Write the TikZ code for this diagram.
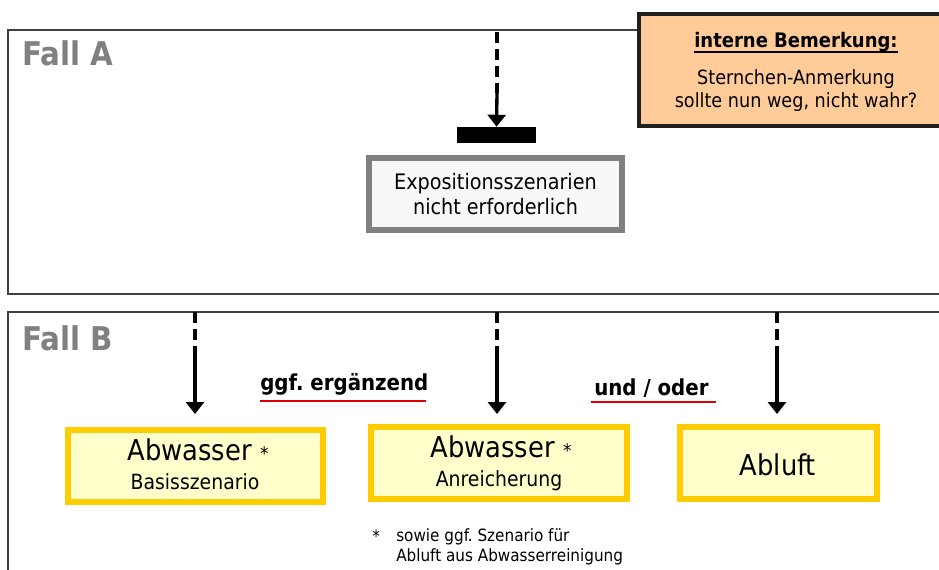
\documentclass[tikz,border=0pt]{standalone}
\usepackage{fontspec}
\setmainfont{DejaVu Sans Condensed}
\usetikzlibrary{arrows.meta,calc}
\frenchspacing
\definecolor{framegray}{HTML}{404040}
\definecolor{labelgray}{HTML}{808080}
\definecolor{boxgray}{HTML}{808080}
\definecolor{boxfill}{HTML}{F8F8F8}
\definecolor{gold}{HTML}{FFCC00}
\definecolor{paleyellow}{HTML}{FFFFCC}
\definecolor{peach}{HTML}{FFCC99}
\definecolor{notedraw}{HTML}{202020}
\definecolor{ulred}{HTML}{DD0000}
\tikzset{
  frame/.style={draw=framegray, line width=1.2pt},
  fallname/.style={anchor=base west, inner sep=0pt, text=labelgray, font=\bfseries\fontsize{24.5}{28}\selectfont},
  graybox/.style={draw=boxgray, fill=boxfill, line width=4.5pt, minimum width=189.75pt, minimum height=54pt, inner sep=0pt},
  yellowbox/.style={draw=gold, fill=paleyellow, line width=4.5pt, minimum height=54pt, inner sep=0pt},
  notebox/.style={draw=notedraw, fill=peach, line width=2.6pt, minimum width=235.5pt, minimum height=84pt, inner sep=0pt},
  bar/.style={fill=black, minimum width=59.25pt, minimum height=12pt, inner sep=0pt},
  txt/.style={anchor=base, inner sep=0pt},
  dashpart/.style={line width=2.5pt, dash pattern=on 8.25pt off 4.5pt},
  arrowpart/.style={line width=2.5pt, -{Triangle[width=13.5pt,length=9pt]}},
  redline/.style={draw=ulred, line width=1.5pt},
  bigtxt/.style={font=\fontsize{21.5}{25}\selectfont},
  midtxt/.style={font=\fontsize{16}{19}\selectfont},
  subtxt/.style={font=\fontsize{15.7}{18}\selectfont},
  notetxt/.style={font=\fontsize{14.7}{17}\selectfont},
  boldtxt/.style={font=\bfseries\fontsize{15}{18}\selectfont},
  labtxt/.style={font=\bfseries\fontsize{16.5}{19}\selectfont},
  foottxt/.style={font=\fontsize{12.7}{15}\selectfont}
}
\begin{document}
\begin{tikzpicture}[x=0.75pt,y=-0.75pt]
\useasboundingbox (0,0) rectangle (939,570);
\clip (0,0) rectangle (939,570);
\fill[white] (0,0) rectangle (939,570);
% frames
\draw[frame] (8,30) rectangle (970,294);
\draw[frame] (8,312) rectangle (970,620);
\node[fallname] (fa) at (22,66) {Fall A};
\node[fallname] (fb) at (22,350) {Fall B};
% note
\node[notebox] (note) at (796,70) {};
\node[txt, boldtxt] (nt1) at (796,48) {interne Bemerkung:};
\draw[black, line width=1.2pt] ($(nt1.base west)+(0,4)$) -- ($(nt1.base east)+(0,4)$);
\node[txt, notetxt] (nt2) at (796,85) {Sternchen-Anmerkung};
\node[txt, notetxt] (nt3) at (796,108) {sollte nun weg, nicht wahr?};
% Fall A
\node[bar] (bar) at (496.5,135) {};
\node[graybox] (expo) at (495.5,194) {};
\node[txt, midtxt] (ex1) at (495.5,190) {Expositionsszenarien};
\node[txt, midtxt] (ex2) at (495.5,215) {nicht erforderlich};
\coordinate (a0) at (497,32);
\coordinate (a1) at (497,93);
\draw[dashpart] (a0) -- (a1);
\draw[arrowpart] (a1) -- (bar.north);
% Fall B boxes
\node[yellowbox, minimum width=191.25pt] (b1) at (195.5,466) {};
\node[yellowbox, minimum width=192pt] (b2) at (499,463) {};
\node[yellowbox, minimum width=147.75pt] (b3) at (778.5,463) {};
\node[txt, bigtxt] (b1t) at (198,460) {Abwasser {\fontsize{14}{16}\selectfont *}};
\node[txt, subtxt] (b1s) at (195,489) {Basisszenario};
\node[txt, bigtxt] (b2t) at (501,457) {Abwasser {\fontsize{14}{16}\selectfont *}};
\node[txt, subtxt] (b2s) at (499,486) {Anreicherung};
\node[txt, bigtxt] (b3t) at (778,475) {Abluft};
% arrows
\coordinate (c10) at (195,312);
\coordinate (c11) at (195,346);
\coordinate (c20) at (497,312);
\coordinate (c21) at (497,346);
\coordinate (c30) at (777,312);
\coordinate (c31) at (777,346);
\draw[dashpart] (c10) -- (c11);
\draw[dashpart] (c20) -- (c21);
\draw[dashpart] (c30) -- (c31);
\draw[arrowpart, shorten >=9.75pt] (c11) -- (c11 |- b1.north);
\draw[arrowpart, shorten >=7.5pt] (c21) -- (c21 |- b2.north);
\draw[arrowpart, shorten >=7.5pt] (c31) -- (c31 |- b3.north);
% labels
\node[txt, labtxt, anchor=base west] (l1) at (260,390) {ggf. ergänzend};
\coordinate (u1a) at (260,401);
\coordinate (u1b) at (426,401);
\draw[redline] (u1a) -- (u1b);
\node[txt, labtxt, anchor=base west] (l2) at (594,395) {und / oder};
\coordinate (u2a) at (591,402);
\coordinate (u2b) at (716,402);
\draw[redline] (u2a) -- (u2b);
% footnote
\node[txt, foottxt, anchor=base west] (fs) at (372,542) {*};
\node[txt, foottxt, anchor=base west] (f1) at (396,541) {sowie ggf. Szenario für};
\node[txt, foottxt, anchor=base west] (f2) at (396,561) {Abluft aus Abwasserreinigung};
\end{tikzpicture}
\end{document}
